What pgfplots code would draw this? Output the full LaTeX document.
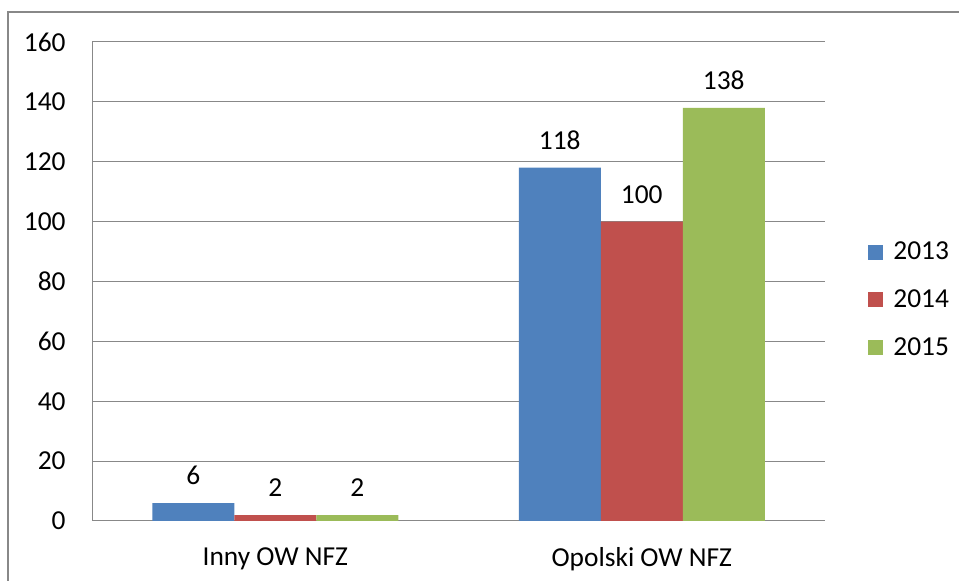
\documentclass[border=0pt]{standalone}
\usepackage{fontspec}
\setmainfont{Carlito}
\usepackage{pgfplots}
\pgfplotsset{compat=1.18}
\definecolor{c13}{HTML}{4F81BD}
\definecolor{c14}{HTML}{C0504D}
\definecolor{c15}{HTML}{9BBB59}
\definecolor{gridc}{HTML}{888888}
\begin{document}
\begin{tikzpicture}
\path[use as bounding box] (0,0) rectangle (479.5pt,290.5pt);
\draw[gridc, line width=1pt] (4pt,0) -- (4pt,284.5pt) -- (479.5pt,284.5pt);
\begin{axis}[
  at={(46pt,30pt)}, anchor=south west,
  scale only axis, width=366.5pt, height=239.5pt,
  xmin=-0.5, xmax=1.5, ymin=0, ymax=160,
  ytick={0,20,...,160},
  xtick={0,1}, xticklabels={Inny OW NFZ, Opolski OW NFZ},
  major tick length=0pt,
  axis x line*=bottom, axis y line*=left,
  axis line style={gridc, line width=0.5pt, -},
  ymajorgrids, grid style={gridc, line width=0.5pt},
  ybar=0pt, bar width=41pt,
  font=\fontsize{13.7}{16}\selectfont,
  /pgf/number format/assume math mode=true,
  y tick label style={anchor=east, inner sep=0pt, xshift=-13pt},
  x tick label style={anchor=north, inner sep=0pt, yshift=-13pt},
  nodes near coords,
  nodes near coords style={inner sep=0pt, anchor=south, yshift=9pt, font=\fontsize{13.7}{16}\selectfont, /pgf/number format/assume math mode=true},
  legend image code/.code={\fill[#1] (0pt,-3.75pt) rectangle (7.5pt,3.75pt);},
  legend style={draw=none, fill=none, inner sep=0pt, anchor=west,
    at={(rel axis cs:1.0587,0.4614)}, row sep=9.5pt,
    font=\fontsize{13.7}{16}\selectfont,
    /tikz/every odd column/.append style={column sep=3pt}},
  legend cell align=left,
]
\addplot[fill=c13, draw=none] coordinates {(0,6) (1,118)};
\addplot[fill=c14, draw=none] coordinates {(0,2) (1,100)};
\addplot[fill=c15, draw=none] coordinates {(0,2) (1,138)};
\legend{2013,2014,2015}
\end{axis}
\end{tikzpicture}
\end{document}
